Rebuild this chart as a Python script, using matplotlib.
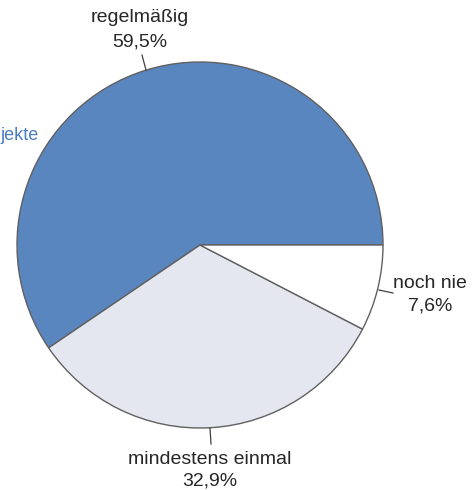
import matplotlib
matplotlib.use("Agg")
import matplotlib.pyplot as plt

labels = ["regelmäßig", "mindestens einmal", "noch nie"]
values = [59.5, 32.9, 7.6]
pct_labels = ["59,5%", "32,9%", "7,6%"]
colors = ["#5a86bf", "#e4e7ef", "#ffffff"]

plt.rcParams['font.family'] = ['Liberation Sans', 'DejaVu Sans']

fig = plt.figure(figsize=(4.75, 4.9), dpi=100)
ax = fig.add_axes([0, 0, 1, 1])

H = 490
cx, cy, r = 200, H - 245, 183
ax.pie(values, colors=colors, startangle=0, counterclock=True,
       center=(cx, cy), radius=r, frame=True,
       wedgeprops=dict(edgecolor="#606060", linewidth=1.0))
ax.set_xlim(0, 475)
ax.set_ylim(0, 490)
ax.set_aspect('equal')
ax.axis('off')

fs = 14
txt = "#262626"
# regelmäßig
ax.text(140, H - 18, labels[0], ha='center', va='center', fontsize=fs, color=txt)
ax.text(140, H - 42, pct_labels[0], ha='center', va='center', fontsize=fs, color=txt)
ax.plot([142, 146], [H - 55, H - 70], color="#404040", lw=0.9)
# noch nie
ax.text(430, H - 284, labels[2], ha='center', va='center', fontsize=fs, color=txt)
ax.text(430, H - 306, pct_labels[2], ha='center', va='center', fontsize=fs, color=txt)
ax.plot([379, 393], [H - 290, H - 293], color="#404040", lw=0.9)
# mindestens einmal
ax.text(210, H - 459, labels[1], ha='center', va='center', fontsize=fs, color=txt)
ax.text(210, H - 481, pct_labels[1], ha='center', va='center', fontsize=fs, color=txt)
ax.plot([210, 211], [H - 428, H - 444], color="#404040", lw=0.9)

# cut-off heading fragment
ax.text(0, H - 136, "jekte", ha='left', va='center', fontsize=13, color="#4a7cc4")

fig.savefig("out.png", dpi=100)
